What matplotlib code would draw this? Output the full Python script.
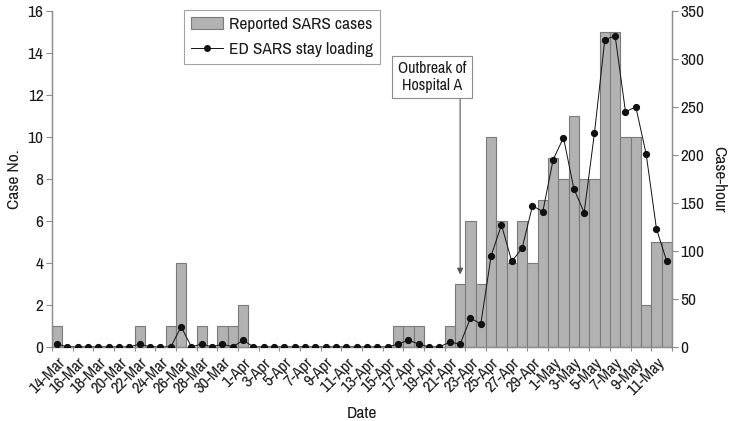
import numpy as np
import matplotlib
matplotlib.use("Agg")
import matplotlib.pyplot as plt
from matplotlib.patches import Patch
from matplotlib.lines import Line2D
from matplotlib import font_manager

# condensed face if one is installed, otherwise plain DejaVu Sans
names = sorted({f.name for f in font_manager.fontManager.ttflist})
cond = [n for n in names if "Condensed" in n or "Narrow" in n]
plt.rcParams["font.family"] = cond[:1] + ["DejaVu Sans"]
plt.rcParams["font.stretch"] = "condensed"

# ---------------------------------------------------------------------------
# Data: one value per day, 14-Mar to 12-May
# ---------------------------------------------------------------------------
cases = [1, 0, 0, 0, 0, 0, 0, 0, 1, 0,
         0, 1, 4, 0, 1, 0, 1, 1, 2, 0,
         0, 0, 0, 0, 0, 0, 0, 0, 0, 0,
         0, 0, 0, 1, 1, 1, 0, 0, 1, 3,
         6, 3, 10, 6, 4, 6, 4, 7, 9, 8,
         11, 8, 8, 15, 15, 10, 10, 2, 5, 5]

stay_loading = [3, 0, 0, 0, 0, 0, 0, 0, 3, 0,
                0, 0, 21, 0, 3, 0, 3, 0, 7, 0,
                0, 0, 0, 0, 0, 0, 0, 0, 0, 0,
                0, 0, 0, 3, 7, 3, 0, 0, 5, 3,
                30, 24, 95, 127, 89, 103, 147, 141, 195, 218,
                165, 140, 223, 320, 324, 245, 250, 201, 123, 89]

tick_labels = ["14-Mar", "16-Mar", "18-Mar", "20-Mar", "22-Mar", "24-Mar",
               "26-Mar", "28-Mar", "30-Mar", "1-Apr", "3-Apr", "5-Apr",
               "7-Apr", "9-Apr", "11-Apr", "13-Apr", "15-Apr", "17-Apr",
               "19-Apr", "21-Apr", "23-Apr", "25-Apr", "27-Apr", "29-Apr",
               "1-May", "3-May", "5-May", "7-May", "9-May", "11-May"]

BAR_FACE = "#b2b2b2"
BAR_EDGE = "#7a7a7a"
AXIS_GRAY = "#8c8c8c"
TEXT = "#1a1a1a"

days = np.arange(len(cases))

fig = plt.figure(figsize=(7.32, 4.21), dpi=100)
ax = fig.add_axes([0.071, 0.176, 0.847, 0.798])
ax2 = ax.twinx()

ax.bar(days, cases, width=1.0, color=BAR_FACE, edgecolor=BAR_EDGE, linewidth=0.8, zorder=2)
ax2.plot(days, stay_loading, color="#111111", linewidth=0.7, marker="o",
         markersize=4.2, zorder=3)

ax.set_xlim(-0.5, len(cases) - 0.5)
ax.set_ylim(0, 16)
ax2.set_ylim(0, 350)
ax.set_yticks(np.arange(0, 17, 2))
ax2.set_yticks(np.arange(0, 351, 50))

# labels at day centres, small ticks on the 2-day boundaries
ax.set_xticks(days[::2])
ax.set_xticklabels(tick_labels, rotation=45, ha="right", rotation_mode="anchor")
ax.set_xticks(np.arange(-0.5, len(cases), 2), minor=True)
ax.tick_params(axis="x", which="major", length=0, pad=6, labelsize=12, colors=TEXT)
ax.tick_params(axis="x", which="minor", length=3, width=0.8, color=AXIS_GRAY)

for a in (ax, ax2):
    a.tick_params(axis="y", length=4, width=0.8, color=AXIS_GRAY, labelsize=12.5,
                  labelcolor=TEXT, pad=2)
    a.spines["top"].set_visible(False)
    for s in ("left", "right", "bottom"):
        a.spines[s].set_color(AXIS_GRAY)
        a.spines[s].set_linewidth(0.9)

ax.set_xlabel("Date", fontsize=12.5, color=TEXT, labelpad=6)
ax.set_ylabel("Case No.", fontsize=12.5, color=TEXT, labelpad=4)
ax2.set_ylabel("Case-hour", fontsize=12.5, color=TEXT, rotation=270, labelpad=16)

# Outbreak annotation
ax.text(36.3, 12.85, "Outbreak of\nHospital A", ha="center", va="center",
        fontsize=11.5, color=TEXT, linespacing=1.1,
        bbox=dict(boxstyle="square,pad=0.35", facecolor="white", edgecolor=AXIS_GRAY,
                  linewidth=0.8))
ax.annotate("", xy=(39, 3.45), xytext=(39, 11.8),
            arrowprops=dict(arrowstyle="-|>", color="#555555", lw=0.8,
                            mutation_scale=9, shrinkA=0, shrinkB=0))

handles = [Patch(facecolor=BAR_FACE, edgecolor=BAR_EDGE, linewidth=0.8),
           Line2D([0], [0], color="#111111", linewidth=0.7, marker="o", markersize=4)]
leg = fig.legend(handles, ["Reported SARS cases", "ED SARS stay loading"],
                 loc="upper left", bbox_to_anchor=(0.24, 0.997), fontsize=12.5,
                 frameon=True, fancybox=False, edgecolor=AXIS_GRAY,
                 handlelength=1.8, handletextpad=0.4, borderpad=0.4, labelspacing=0.55)
leg.get_frame().set_linewidth(0.8)
for t in leg.get_texts():
    t.set_color(TEXT)

fig.savefig("out.png", dpi=100)
